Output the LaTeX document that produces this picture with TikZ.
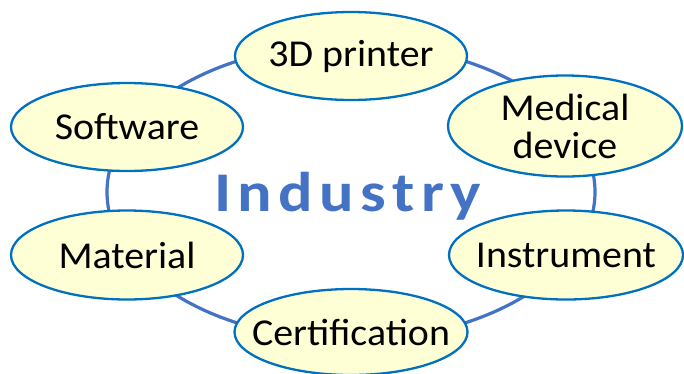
\documentclass[tikz,border=0pt]{standalone}
\usepackage{fontspec}
\setmainfont{Carlito}
\usetikzlibrary{shapes.geometric}
\definecolor{ringblue}{HTML}{4472C4}
\definecolor{edgeblue}{HTML}{0070C0}
\definecolor{nodefill}{HTML}{FFFFD5}
\begin{document}
\begin{tikzpicture}[x=1pt,y=-1pt,
  item/.style={ellipse, draw=edgeblue, line width=2.3pt, fill=nodefill, inner sep=0pt},
  itemtext/.style={font=\fontsize{38}{38}\selectfont, align=center, xscale=1.05, transform shape}]
\useasboundingbox (0,0) rectangle (684,373);
\draw[ringblue, line width=3.2pt] (351,192) ellipse [x radius=244, y radius=148];
\node[item, minimum width=232pt, minimum height=88pt, label={[itemtext]center:3D printer}] (printer) at (351,56) {};
\node[item, minimum width=232pt, minimum height=88pt, label={[itemtext]center:Software}] (software) at (127,127) {};
\node[item, minimum width=234pt, minimum height=101pt, label={[itemtext]center:Medical\\device}] (medical) at (565,126) {};
\node[item, minimum width=232pt, minimum height=89pt, label={[itemtext]center:Material}] (material) at (127,255) {};
\node[item, minimum width=234pt, minimum height=89pt, label={[itemtext]center:Instrument}] (instrument) at (566,255) {};
\node[item, minimum width=233pt, minimum height=86pt, label={[itemtext]center:Certification}] (cert) at (351,332) {};
\node[text=ringblue, font=\fontsize{56}{58}\selectfont\bfseries\addfontfeature{LetterSpace=10},
  xscale=1.15, transform shape, anchor=base west, inner sep=0pt] (industry) at (214,211) {Industry};
\end{tikzpicture}
\end{document}
